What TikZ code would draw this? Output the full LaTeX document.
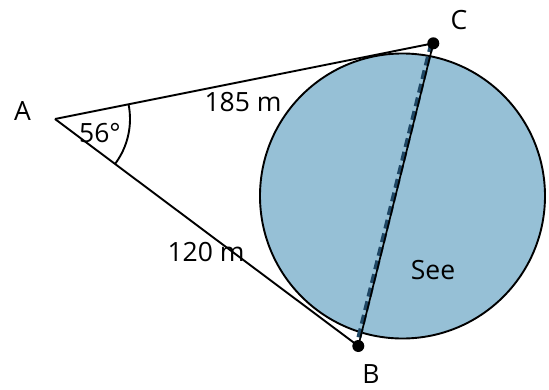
\documentclass[tikz,border=0pt]{standalone}
\usepackage{fontspec}
\setmainfont{Open Sans}
\usetikzlibrary{angles}
\definecolor{lake}{RGB}{150,192,214}
\definecolor{chord}{RGB}{30,70,100}
\begin{document}
\begin{tikzpicture}[x=1pt,y=-1pt,
  lbl/.style={font=\fontsize{26.5}{30}\selectfont, inner sep=0pt},
  edge/.style={line width=1.9pt, black},
  dot/.style={circle, fill=black, inner sep=0pt, minimum size=12pt}]
\useasboundingbox (0,0) rectangle (549,389);
\coordinate (A) at (55,119);
\coordinate (B) at (358.3,346);
\coordinate (C) at (433.3,43.3);
\draw[edge] (A) -- (C);
\draw[edge] (A) -- (B);
\node[circle, draw=black, line width=1.9pt, fill=lake, minimum size=285pt, inner sep=0pt] (O) at (402.5,196) {};
\draw[chord, line width=5pt, dash pattern=on 9pt off 5pt] ([xshift=-1.5pt]C) -- ([xshift=-1.5pt]B);
\draw[edge, line width=1.7pt] (C) -- (B);
\node[dot] (Cd) at (C) {};
\node[dot] (Bd) at (B) {};
\pic[draw, line width=1.9pt, angle radius=75pt] {angle = B--A--C};
\node[lbl] (la) at (22.5,111) {A};
\node[lbl] (lc) at (459,20) {C};
\node[lbl] (lb) at (371,374) {B};
\node[lbl] (ang) at (100,133) {56°};
\node[lbl] (d1) at (243,102) {185 m};
\node[lbl] (d2) at (206,252) {120 m};
\node[lbl] (see) at (433,270) {See};
\end{tikzpicture}
\end{document}
